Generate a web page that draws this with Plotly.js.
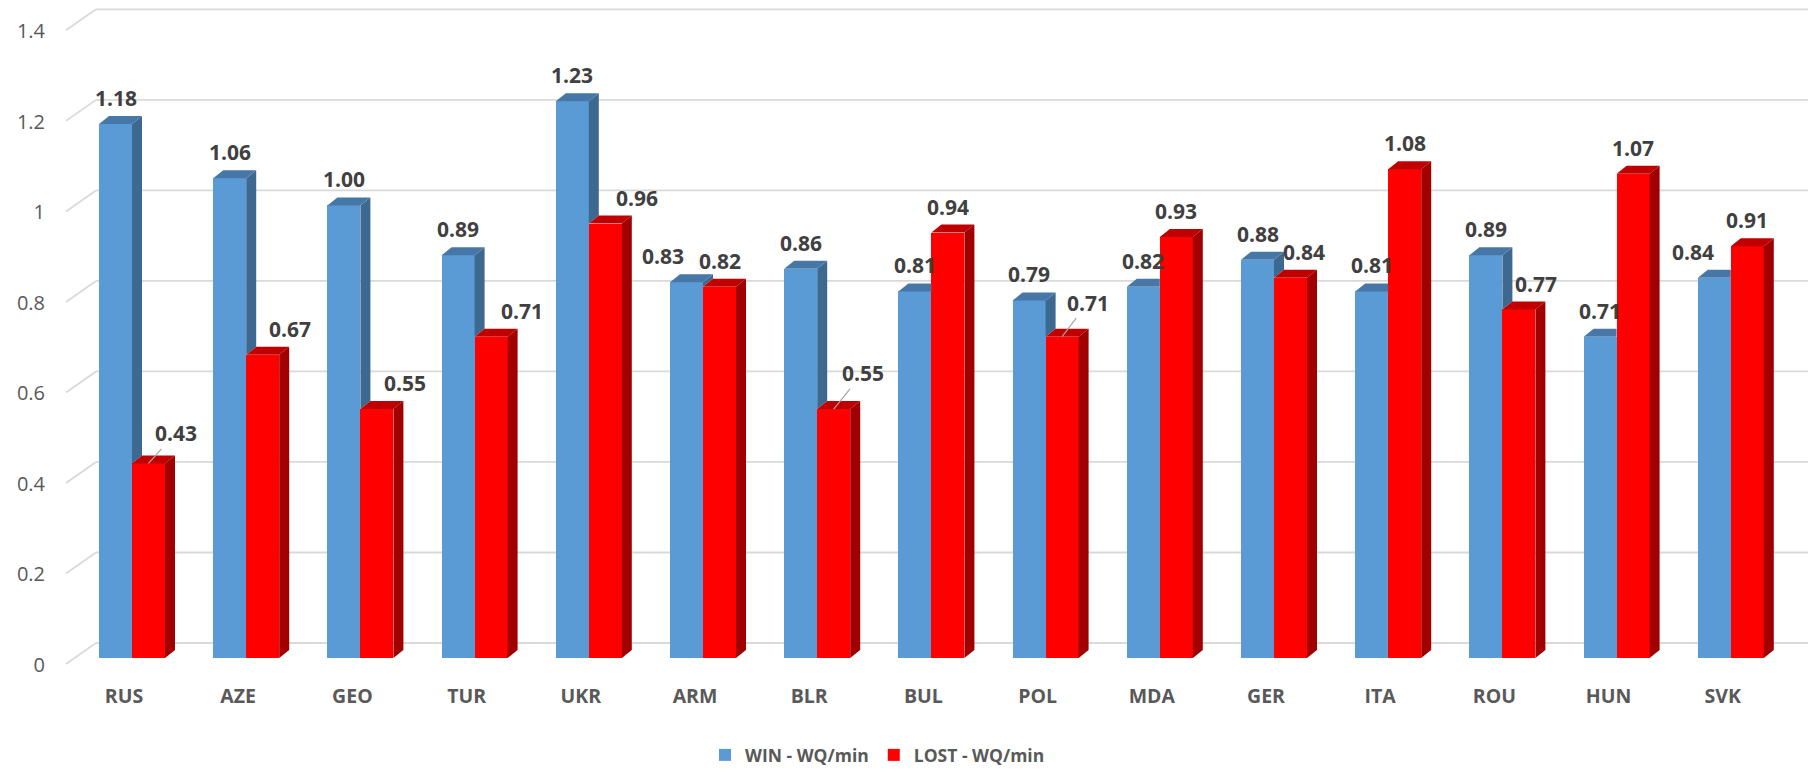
<!DOCTYPE html>
<html><head><meta charset="utf-8">
<script src="https://cdn.plot.ly/plotly-3.0.1.min.js"></script>
<style>html,body{margin:0;padding:0;background:#fff}#chart{width:1814px;height:769px}</style>
</head><body><div id="chart"></div>
<script>
// ---- data ----
const categories = ['RUS','AZE','GEO','TUR','UKR','ARM','BLR','BUL','POL','MDA','GER','ITA','ROU','HUN','SVK'];
const winValues  = [1.18,1.06,1.00,0.89,1.23,0.83,0.86,0.81,0.79,0.82,0.88,0.81,0.89,0.71,0.84];
const lostValues = [0.43,0.67,0.55,0.71,0.96,0.82,0.55,0.94,0.71,0.93,0.84,1.08,0.77,1.07,0.91];
const yTickValues = [0,0.2,0.4,0.6,0.8,1,1.2,1.4];
const yTickLabels = ['0','0.2','0.4','0.6','0.8','1','1.2','1.4'];
const seriesNames = ['WIN - WQ/min','LOST - WQ/min'];

// ---- styling / geometry ----
const W = 1814, H = 769;
const G = {plotLeftPx:50, plotRightPx:1814, gridLeftPx:96, gridRightPx:1808,
  firstCatPx:132, catPitchPx:114.2, barPx:33, zeroPx:658, pxPerUnit:452.6,
  yMin:-0.03, yMax:1.45, depthXPx:10, depthYPx:8, backYPx:15, frontDropPx:6, labelFrontPx:66};
const C = {winFront:'#5B9BD5', winSide:'#3D6991', winTop:'#4777A6',
  lostFront:'#FF0000', lostSide:'#A00000', lostTop:'#C00000', grid:'#D9D9D9',
  tick:'#595959', label:'#404040'};
const FONT = '"Open Sans", "DejaVu Sans", sans-serif';
// label nudges (px), separate from the data
const labelNudge = {win:{ARM:-24, SVK:-21}, lost:{AZE:27, GEO:28, TUR:31, UKR:32, GER:13, ROU:17}};
const leaders = {lost:{RUS:[27,-30], BLR:[29,-36], POL:[26,-34]}};

const px2x = p => (p - G.firstCatPx) / G.catPitchPx;
const xRange = [px2x(G.plotLeftPx), px2x(G.plotRightPx)];
const yBottomPx = G.zeroPx - G.yMin * G.pxPerUnit;
const yTopPx = G.zeroPx - G.yMax * G.pxPerUnit;
const bw = G.barPx / G.catPitchPx;
const dxD = G.depthXPx / G.catPitchPx;
const dyD = G.depthYPx / G.pxPerUnit;
const idx = categories.map((_, i) => i);

const traces = [
  {type:'bar', name:seriesNames[0], x:idx, y:winValues, offset:-bw, width:bw,
   marker:{color:C.winFront, line:{width:0}}, hoverinfo:'skip'},
  {type:'bar', name:seriesNames[1], x:idx, y:lostValues, offset:0, width:bw,
   marker:{color:C.lostFront, line:{width:0}}, hoverinfo:'skip'}
];

const shapes = [];
// back-wall gridlines + left diagonals
yTickValues.forEach(v => {
  const yb = v + G.backYPx / G.pxPerUnit;
  const yf = v - G.frontDropPx / G.pxPerUnit;
  shapes.push({type:'line', layer:'below', xref:'x', yref:'y',
    x0:px2x(G.gridLeftPx), x1:px2x(G.gridRightPx), y0:yb, y1:yb,
    line:{color:C.grid, width:1.8}});
  shapes.push({type:'line', layer:'below', xref:'x', yref:'y',
    x0:px2x(G.labelFrontPx), x1:px2x(G.gridLeftPx), y0:yf, y1:yb,
    line:{color:C.grid, width:1.8}});
});
const poly = (pts, color) => ({type:'path', layer:'above', xref:'x', yref:'y',
  path:'M' + pts.map(p => p[0] + ',' + p[1]).join(' L') + ' Z',
  fillcolor:color, line:{width:0}});
// 3D side and top faces
idx.forEach(i => {
  const t = winValues[i], r = lostValues[i];
  const L = i - bw, R = i, R2 = i + bw;
  if (r < t) {
    shapes.push(poly([[R,t],[R+dxD,t+dyD],[R+dxD,r+dyD],[R,r]], C.winSide));
    shapes.push(poly([[L,t],[L+dxD,t+dyD],[R+dxD,t+dyD],[R,t]], C.winTop));
  } else {
    shapes.push(poly([[L,t],[L+dxD,t+dyD],[R,t+dyD],[R,t]], C.winTop));
  }
  shapes.push(poly([[R,r],[R+dxD,r+dyD],[R2+dxD,r+dyD],[R2,r]], C.lostTop));
  shapes.push(poly([[R2,r],[R2+dxD,r+dyD],[R2+dxD,dyD],[R2,0]], C.lostSide));
});

// data labels
const annotations = [];
const labFont = {family:FONT, size:21, color:C.label, weight:700};
[['win', winValues, -bw/2], ['lost', lostValues, bw/2]].forEach(([key, vals, off]) => {
  vals.forEach((v, i) => {
    const cat = categories[i];
    const lead = (leaders[key] || {})[cat];
    if (lead) {
      annotations.push({x:i+off, y:v, xref:'x', yref:'y', text:v.toFixed(2),
        showarrow:true, ax:lead[0], ay:lead[1], arrowhead:0, arrowwidth:1.2,
        arrowcolor:'#A6A6A6', standoff:0, startstandoff:0, font:labFont});
    } else {
      annotations.push({x:i+off, y:v, xref:'x', yref:'y', text:v.toFixed(2),
        showarrow:false, xshift:(labelNudge[key][cat] || 0), yshift:26,
        yanchor:'middle', font:labFont});
    }
  });
});

const layout = {
  width:W, height:H, margin:{l:0, r:0, t:0, b:0, autoexpand:false},
  paper_bgcolor:'#fff', plot_bgcolor:'rgba(0,0,0,0)',
  barmode:'overlay', bargap:0,
  font:{family:FONT, color:C.tick},
  xaxis:{domain:[G.plotLeftPx/W, G.plotRightPx/W], range:xRange, showgrid:false,
    zeroline:false, showline:false, ticks:'', tickvals:idx, ticktext:categories,
    tickfont:{family:FONT, size:19.5, color:C.tick, weight:700},
    ticklabelshift:-8, ticklabelstandoff:11, fixedrange:true, automargin:false},
  yaxis:{domain:[1 - yBottomPx/H, 1 - yTopPx/H], range:[G.yMin, G.yMax], showgrid:false,
    zeroline:false, showline:false, ticks:'', tickvals:yTickValues, ticktext:yTickLabels,
    tickfont:{family:FONT, size:20, color:C.tick}, ticklabelshift:7,
    ticklabelstandoff:4, fixedrange:true, automargin:false},
  showlegend:true,
  legend:{orientation:'h', x:705/W, xanchor:'left', y:1 - 755/H, yanchor:'middle',
    font:{family:FONT, size:17.5, color:C.tick, weight:700}, bgcolor:'rgba(0,0,0,0)'},
  shapes:shapes, annotations:annotations
};
Plotly.newPlot('chart', traces, layout, {displayModeBar:false, staticPlot:true});
</script></body></html>
